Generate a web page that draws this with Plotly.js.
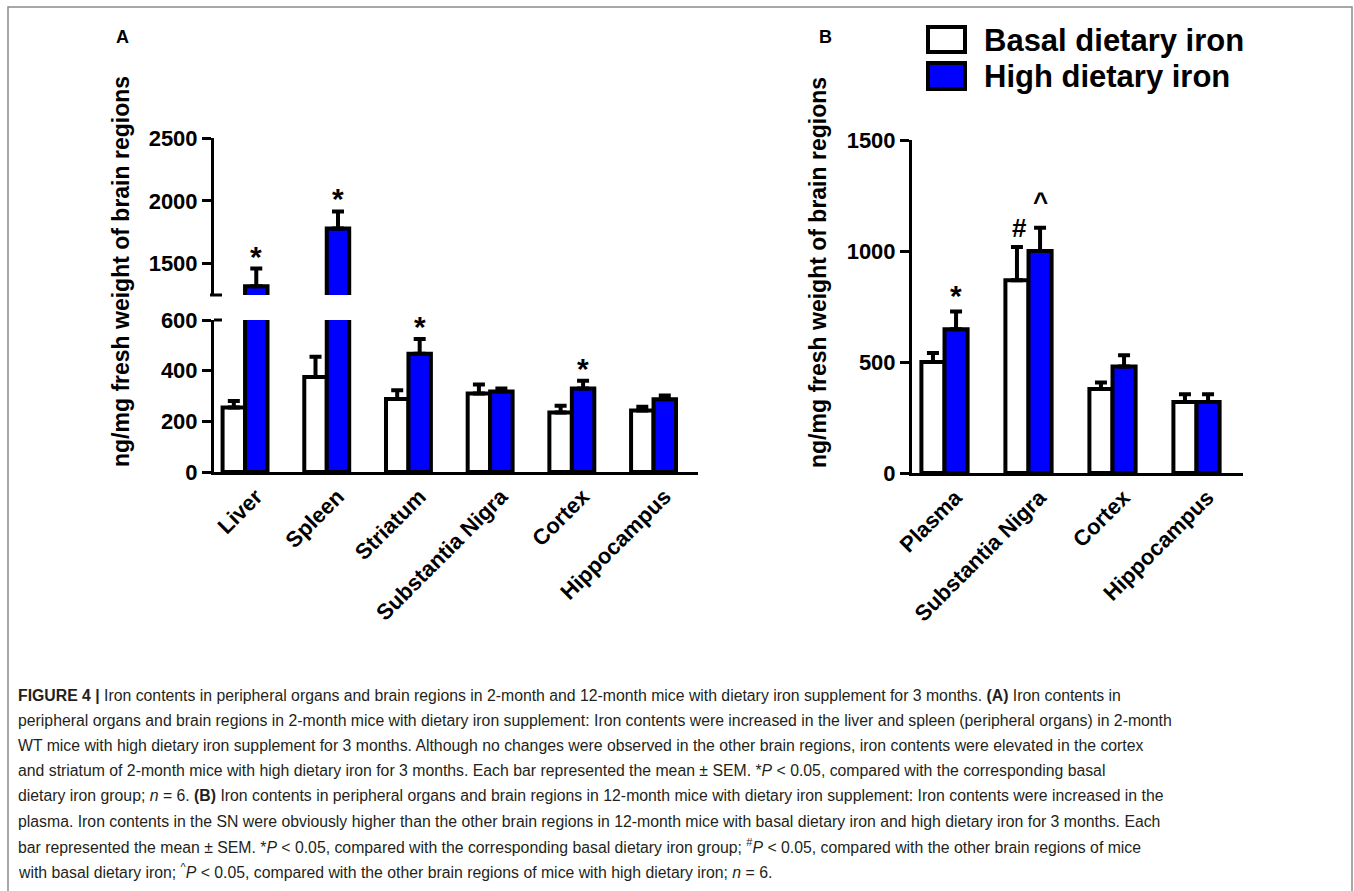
<!DOCTYPE html>
<html>
<head>
<meta charset="utf-8">
<script src="https://cdn.plot.ly/plotly-3.0.1.min.js"></script>
<style>
  html, body { margin: 0; padding: 0; background: #ffffff; }
  #chart { width: 1354px; height: 891px; }
</style>
</head>
<body>
<div id="chart"></div>
<script>
// ---------- data ----------
const seriesNames = ['Basal dietary iron', 'High dietary iron'];

const catsA = ['Liver', 'Spleen', 'Striatum', 'Substantia Nigra', 'Cortex', 'Hippocampus'];
const basalA = [255, 375, 288, 310, 235, 243];
const basalAErr = [25, 80, 35, 35, 27, 15];
const highA = [1320, 1780, 467, 318, 330, 287];
const highAErr = [140, 135, 58, 12, 30, 15];
const sigHighA = ['*', '*', '*', '', '*', ''];

const catsB = ['Plasma', 'Substantia Nigra', 'Cortex', 'Hippocampus'];
const basalB = [500, 868, 378, 320];
const basalBErr = [40, 150, 30, 35];
const highB = [648, 1000, 480, 320];
const highBErr = [80, 105, 50, 35];
const sigBasalB = ['', '#', '', ''];
const sigHighB = ['*', '^', '', ''];

const ticksALow = [0, 200, 400, 600];
const ticksAHigh = [1500, 2000, 2500];
const ticksB = [0, 500, 1000, 1500];

const yTitle = 'ng/mg fresh weight of brain regions';

const captionLines = [
  '<b>FIGURE 4 |</b> Iron contents in peripheral organs and brain regions in 2-month and 12-month mice with dietary iron supplement for 3 months. <b>(A)</b> Iron contents in',
  'peripheral organs and brain regions in 2-month mice with dietary iron supplement: Iron contents were increased in the liver and spleen (peripheral organs) in 2-month',
  'WT mice with high dietary iron supplement for 3 months. Although no changes were observed in the other brain regions, iron contents were elevated in the cortex',
  'and striatum of 2-month mice with high dietary iron for 3 months. Each bar represented the mean ± SEM. *<i>P</i> &lt; 0.05, compared with the corresponding basal',
  'dietary iron group; <i>n</i> = 6. <b>(B)</b> Iron contents in peripheral organs and brain regions in 12-month mice with dietary iron supplement: Iron contents were increased in the',
  'plasma. Iron contents in the SN were obviously higher than the other brain regions in 12-month mice with basal dietary iron and high dietary iron for 3 months. Each',
  'bar represented the mean ± SEM. *<i>P</i> &lt; 0.05, compared with the corresponding basal dietary iron group; <sup>#</sup><i>P</i> &lt; 0.05, compared with the other brain regions of mice',
  'with basal dietary iron; <sup>^</sup><i>P</i> &lt; 0.05, compared with the other brain regions of mice with high dietary iron; <i>n</i> = 6.'
];

// ---------- geometry helpers (pixel -> paper) ----------
const W = 1354, H = 891;
const px = v => v / W;
const py = v => 1 - v / H;

const FONT = 'Liberation Sans, Arial, Helvetica, sans-serif';
const BLUE = '#0000FF';
const BARGAP = 0.45;

const rangeA = [-0.38, 5.55];
const domAx = [px(214), px(214 + (rangeA[1] - rangeA[0]) * 81.7)];
const rangeB = [-0.387, 3.55];
const domBx = [px(912), px(912 + (rangeB[1] - rangeB[0]) * 84)];

function barTrace(name, cats, vals, errs, fill, xa, ya) {
  return {
    type: 'bar', name: name, x: cats, y: vals,
    xaxis: xa, yaxis: ya, showlegend: false,
    marker: { color: fill, line: { color: '#000', width: 4 } },
    error_y: { type: 'data', symmetric: false, array: errs, arrayminus: errs.map(() => 0),
               color: '#000', thickness: 4, width: 6 },
    hoverinfo: 'x+y'
  };
}

const traces = [
  barTrace(seriesNames[0], catsA, basalA, basalAErr, '#ffffff', 'x', 'y'),
  barTrace(seriesNames[1], catsA, highA, highAErr, BLUE, 'x', 'y'),
  barTrace(seriesNames[0], catsA, basalA, basalAErr, '#ffffff', 'x', 'y2'),
  barTrace(seriesNames[1], catsA, highA, highAErr, BLUE, 'x', 'y2'),
  barTrace(seriesNames[0], catsB, basalB, basalBErr, '#ffffff', 'x3', 'y3'),
  barTrace(seriesNames[1], catsB, highB, highBErr, BLUE, 'x3', 'y3')
];

const tickFont = { family: FONT, size: 22, color: '#000', weight: 'bold' };
function yAxis(extra) {
  return Object.assign({
    showline: true, linecolor: '#000', linewidth: 3,
    ticks: 'outside', ticklen: 9, tickwidth: 3, tickcolor: '#000',
    tickfont: tickFont, showgrid: false, zeroline: false, fixedrange: true
  }, extra);
}
function xAxis(extra) {
  return Object.assign({
    type: 'category', showline: true, linecolor: '#000', linewidth: 3,
    ticks: '', tickangle: -45, tickfont: tickFont, ticklabelshift: 11, showgrid: false,
    zeroline: false, fixedrange: true
  }, extra);
}

const annotations = [];
const shapes = [];

// significance markers
const off = (1 - BARGAP) / 4;
sigHighA.forEach((s, i) => {
  if (!s) return;
  const top = highA[i] + highAErr[i];
  annotations.push({ x: i + off, y: top, xref: 'x', yref: top > 600 ? 'y2' : 'y',
    text: s, showarrow: false, yanchor: 'bottom', yshift: -6,
    font: { family: FONT, size: 30, color: '#000', weight: 'bold' } });
});
sigBasalB.forEach((s, i) => {
  if (!s) return;
  annotations.push({ x: i - off, y: basalB[i] + basalBErr[i], xref: 'x3', yref: 'y3',
    text: s, showarrow: false, yanchor: 'bottom', yshift: 2, xshift: 3,
    font: { family: FONT, size: 26, color: '#000', weight: 'bold' } });
});
sigHighB.forEach((s, i) => {
  if (!s) return;
  annotations.push({ x: i + off, y: highB[i] + highBErr[i], xref: 'x3', yref: 'y3',
    text: s, showarrow: false, yanchor: 'bottom', yshift: s === '*' ? -3 : 9,
    font: { family: FONT, size: s === '*' ? 30 : 26, color: '#000', weight: 'bold' } });
});

// y titles
annotations.push({ x: px(121), y: py(272), xref: 'paper', yref: 'paper', text: yTitle,
  textangle: -90, showarrow: false, xanchor: 'center', yanchor: 'middle',
  font: { family: FONT, size: 23, color: '#000', weight: 'bold' } });
annotations.push({ x: px(818), y: py(272), xref: 'paper', yref: 'paper', text: yTitle,
  textangle: -90, showarrow: false, xanchor: 'center', yanchor: 'middle',
  font: { family: FONT, size: 23, color: '#000', weight: 'bold' } });

// panel letters
annotations.push({ x: px(122), y: py(37), xref: 'paper', yref: 'paper', text: 'A', showarrow: false,
  xanchor: 'center', yanchor: 'middle', font: { family: FONT, size: 18, color: '#000', weight: 'bold' } });
annotations.push({ x: px(825), y: py(37), xref: 'paper', yref: 'paper', text: 'B', showarrow: false,
  xanchor: 'center', yanchor: 'middle', font: { family: FONT, size: 18, color: '#000', weight: 'bold' } });

// legend (drawn)
const legendFills = ['#ffffff', BLUE];
const legendY = [[27, 52], [63, 89]];
seriesNames.forEach((n, k) => {
  shapes.push({ type: 'rect', xref: 'paper', yref: 'paper',
    x0: px(928), x1: px(965), y0: py(legendY[k][1]), y1: py(legendY[k][0]),
    fillcolor: legendFills[k], line: { color: '#000', width: 4 } });
  annotations.push({ x: px(982), y: py((legendY[k][0] + legendY[k][1]) / 2 + 1), xref: 'paper', yref: 'paper',
    text: n, showarrow: false, xanchor: 'left', yanchor: 'middle',
    font: { family: FONT, size: 31, color: '#000', weight: 'bold' } });
});

// axis-break caps (panel A)
shapes.push({ type: 'line', xref: 'paper', yref: 'y2 domain', x0: domAx[0] - px(4), x1: domAx[0] + px(8),
  y0: 0, y1: 0, line: { color: '#000', width: 3 } });
shapes.push({ type: 'line', xref: 'paper', yref: 'y domain', x0: domAx[0], x1: domAx[0] + px(8),
  y0: 1, y1: 1, line: { color: '#000', width: 3 } });

// frame
shapes.push({ type: 'rect', xref: 'paper', yref: 'paper', x0: px(8), x1: px(1352), y0: -0.05, y1: py(7),
  line: { color: '#8a8a8a', width: 1.5 }, fillcolor: 'rgba(0,0,0,0)', layer: 'below' });

// caption
captionLines.forEach((t, i) => {
  annotations.push({ x: px(16), y: py(695 + i * 25.2), xref: 'paper', yref: 'paper', text: t,
    showarrow: false, xanchor: 'left', yanchor: 'middle', align: 'left',
    font: { family: FONT, size: 15.8, color: '#231f20' } });
});

const layout = {
  width: W, height: H,
  margin: { l: 0, r: 0, t: 0, b: 0 },
  paper_bgcolor: '#ffffff', plot_bgcolor: 'rgba(0,0,0,0)',
  barmode: 'group', bargap: BARGAP, bargroupgap: 0,
  showlegend: false,
  xaxis: xAxis({ domain: domAx, range: rangeA, anchor: 'y' }),
  yaxis: yAxis({ domain: [py(472), py(320)], range: [0, 600], tickvals: ticksALow, anchor: 'x' }),
  yaxis2: yAxis({ domain: [py(295), py(138)], range: [1250, 2500], tickvals: ticksAHigh, anchor: 'x' }),
  xaxis3: xAxis({ domain: domBx, range: rangeB, anchor: 'y3' }),
  yaxis3: yAxis({ domain: [py(473), py(140)], range: [0, 1500], tickvals: ticksB, anchor: 'x3' }),
  annotations: annotations,
  shapes: shapes
};

Plotly.newPlot('chart', traces, layout, { displayModeBar: false, staticPlot: true });
</script>
</body>
</html>
